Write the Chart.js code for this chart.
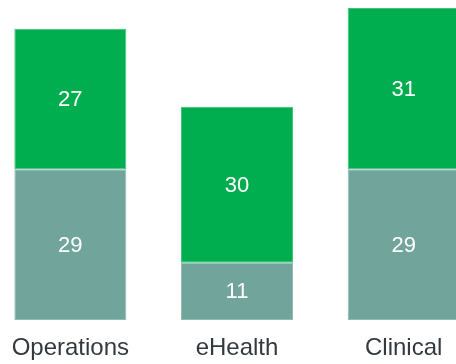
<!DOCTYPE html>
<html>
<head>
<meta charset="utf-8">
<script src="https://cdn.jsdelivr.net/npm/chart.js@4/dist/chart.umd.min.js"></script>
<style>
html,body{margin:0;padding:0;background:#fff;overflow:hidden;width:456px;height:364px;}
#wrap{position:absolute;left:-13px;top:0;width:500px;height:364px;}
</style>
</head>
<body>
<div id="wrap"><canvas id="c"></canvas></div>
<script>
const categories = ["Operations", "eHealth", "Clinical"];
const bottomValues = [29, 11, 29];
const topValues = [27, 30, 31];

const labelPlugin = {
  id: 'segLabels',
  afterDatasetsDraw(chart) {
    const ctx = chart.ctx;
    ctx.save();
    ctx.fillStyle = '#ffffff';
    ctx.font = '22px "Liberation Sans", Arial, sans-serif';
    ctx.textAlign = 'center';
    ctx.textBaseline = 'middle';
    chart.data.datasets.forEach((ds, di) => {
      const meta = chart.getDatasetMeta(di);
      meta.data.forEach((bar, i) => {
        const p = bar.getProps(['x', 'y', 'base'], true);
        ctx.fillText(String(ds.data[i]), p.x, (p.y + p.base) / 2 + 1);
      });
    });
    ctx.restore();
  }
};

new Chart(document.getElementById('c'), {
  type: 'bar',
  data: {
    labels: categories,
    datasets: [
      { data: bottomValues, backgroundColor: '#71a59b', borderColor: '#8cbcb2', borderWidth: 1, borderSkipped: false },
      { data: topValues, backgroundColor: '#00ad4f', borderColor: '#3cc57a', borderWidth: 1, borderSkipped: false }
    ]
  },
  options: {
    responsive: true,
    maintainAspectRatio: false,
    animation: false,
    devicePixelRatio: 1,
    layout: { padding: { top: 8, left: 0, right: 0, bottom: 0 } },
    datasets: { bar: { categoryPercentage: 1, barPercentage: 0.672 } },
    plugins: { legend: { display: false }, tooltip: { enabled: false } },
    scales: {
      x: {
        stacked: true,
        grid: { display: false, drawTicks: false },
        border: { display: false },
        ticks: { color: '#333a3f', font: { size: 24, family: '"Liberation Sans", Arial, sans-serif' }, padding: 14 },
        afterFit(scale) { scale.height = 44; }
      },
      y: {
        stacked: true,
        display: false,
        min: 0,
        max: 60
      }
    }
  },
  plugins: [labelPlugin]
});
</script>
</body>
</html>
